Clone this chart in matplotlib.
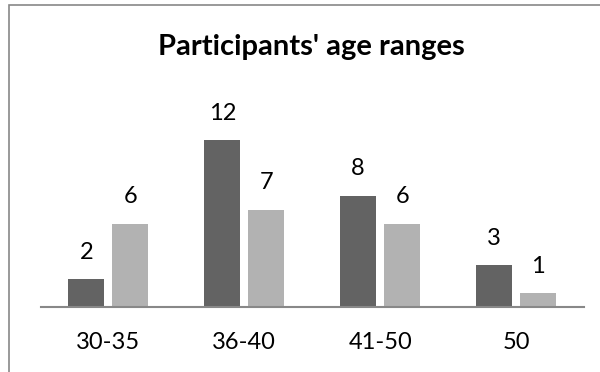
import numpy as np
import matplotlib.pyplot as plt
from matplotlib.patches import Rectangle

plt.rcParams['font.family'] = ['Lato', 'DejaVu Sans']

age_groups = ['30-35', '36-40', '41-50', '50']
series_a = [2, 12, 8, 3]
series_b = [6, 7, 6, 1]

dark = '#636363'
light = '#b2b2b2'

fig = plt.figure(figsize=(6, 3.72), dpi=100)
ax = fig.add_axes([0.0675, 0.1747, 0.9058, 0.5833])

x = np.arange(len(age_groups))
w = 0.265
off = 0.162
bars_a = ax.bar(x - off, series_a, w, color=dark)
bars_b = ax.bar(x + off, series_b, w, color=light)

for bars, vals in ((bars_a, series_a), (bars_b, series_b)):
    for b, v in zip(bars, vals):
        ax.annotate(str(v), (b.get_x() + b.get_width() / 2, v),
                    xytext=(0, 19.5), textcoords='offset points',
                    ha='center', va='center', fontsize=17, color='black')

ax.set_xlim(-0.5, len(age_groups) - 0.5)
ax.set_ylim(0, 15.6)
ax.set_xticks(x)
ax.set_xticklabels(age_groups, fontsize=17)
ax.tick_params(axis='x', length=0, pad=18)
ax.set_yticks([])
for s in ('top', 'right', 'left'):
    ax.spines[s].set_visible(False)
ax.spines['bottom'].set_color('#888888')
ax.spines['bottom'].set_linewidth(1.5)

fig.text(0.519, 1 - 47 / 372, "Participants' age ranges", ha='center',
         va='center', fontsize=21, fontweight='bold')

# outer chart frame, cut off at the right and bottom edges
fig.patches.append(Rectangle((9 / 600, -0.1), 1.2, 1 - 5 / 372 + 0.1,
                             transform=fig.transFigure, fill=False,
                             edgecolor='#888888', linewidth=1.2))

fig.savefig('out.png', dpi=100)
